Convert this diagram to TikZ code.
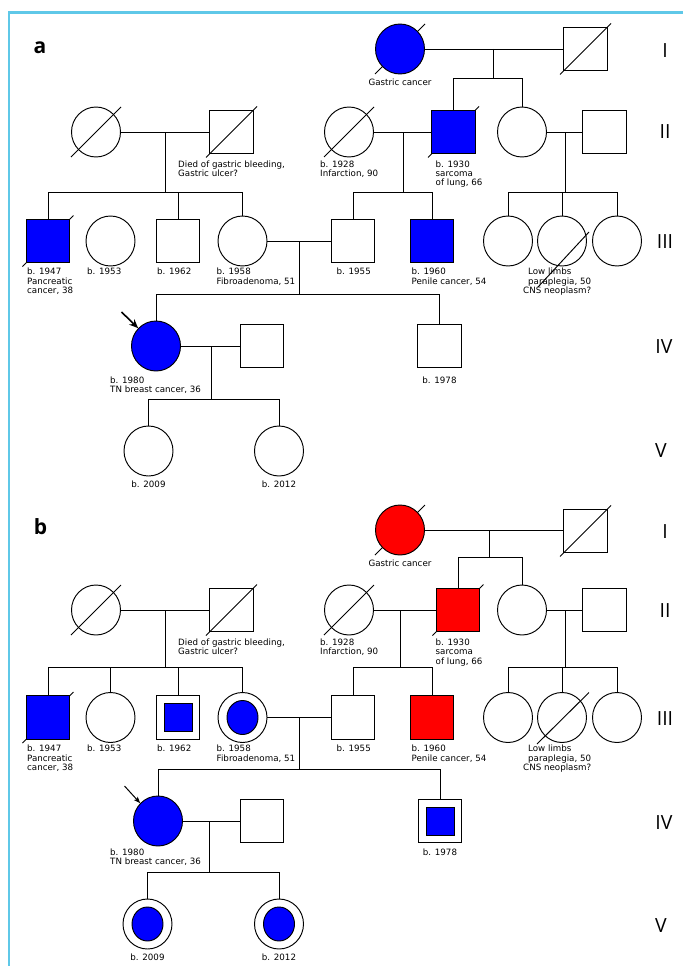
\documentclass[tikz,border=0pt]{standalone}
\usepackage{fontspec}
\setmainfont{DejaVu Sans}
\newfontfamily\numfont{Open Sans}
\usetikzlibrary{shapes.geometric,arrows.meta,calc,backgrounds}
\definecolor{pblue}{RGB}{0,0,255}
\definecolor{pred}{RGB}{255,0,0}
\definecolor{framec}{RGB}{95,200,232}
\begin{document}
\begin{tikzpicture}[x=1pt,y=-1pt,
 rel/.style={line width=0.95pt},
 fem/.style={draw, line width=0.95pt, ellipse, inner sep=0pt, minimum width=49pt, minimum height=50pt},
 mal/.style={draw, line width=0.95pt, rectangle, inner sep=0pt, minimum width=43.5pt, minimum height=43.5pt},
 ifem/.style={draw, line width=0.95pt, ellipse, inner sep=0pt, minimum width=31pt, minimum height=34pt, fill=pblue},
 imal/.style={draw, line width=0.95pt, rectangle, inner sep=0pt, minimum width=28pt, minimum height=28pt, fill=pblue},
 lbl/.style={anchor=north west, inner sep=0pt, align=left, font=\fontsize{8.7}{9.2}\selectfont},
 clbl/.style={anchor=base, inner sep=0pt, font=\fontsize{8.7}{9.2}\selectfont},
 gennum/.style={anchor=base, inner sep=0pt, font=\numfont\fontsize{19.5}{20}\selectfont},
 panellbl/.style={anchor=base, inner sep=0pt, font=\numfont\bfseries\fontsize{21}{21}\selectfont}
]
\useasboundingbox (0,0) rectangle (683,966);
\draw[framec, line width=2.2pt] (8.8,966) -- (8.8,12.5) -- (683,12.5);

% ================= PANEL A =================
\node[panellbl] (pa) at (40,54) {a};
\node[gennum] (gaI) at (665,57.3) {I};
\node[gennum] (gaII) at (665,138.7) {II};
\node[gennum] (gaIII) at (665,248) {III};
\node[gennum] (gaIV) at (664,353.7) {IV};
\node[gennum] (gaV) at (661,457.7) {V};

\node[fem, fill=pblue] (aI1) at (400,49) {};
\node[mal] (aI2) at (585.5,49) {};
\node[fem] (aII1) at (96,132) {};
\node[mal] (aII2) at (231.5,132) {};
\node[fem] (aII3) at (349,132) {};
\node[mal, fill=pblue] (aII4) at (453.5,132) {};
\node[fem] (aII5) at (522,132) {};
\node[mal] (aII6) at (604.5,132) {};
\node[mal, fill=pblue] (aIII1) at (48,241) {};
\node[fem] (aIII2) at (110.5,241) {};
\node[mal] (aIII3) at (178,241) {};
\node[fem] (aIII4) at (242.5,241) {};
\node[mal] (aIII5) at (353,241) {};
\node[mal, fill=pblue] (aIII6) at (432,241) {};
\node[fem] (aIII7) at (508,241) {};
\node[fem] (aIII8) at (562,241) {};
\node[fem] (aIII9) at (617,241) {};
\node[fem, fill=pblue] (aIV1) at (156,346) {};
\node[mal] (aIV2) at (262,346) {};
\node[mal] (aIV3) at (439.5,346) {};
\node[fem] (aV1) at (148.5,451) {};
\node[fem] (aV2) at (279,451) {};

\begin{scope}[on background layer]
\draw[rel] ($(aI1)+(-25,25)$) -- ($(aI1)+(25,-25)$);
\draw[rel] ($(aI2)+(-25.5,25.5)$) -- ($(aI2)+(25.5,-25.5)$);
\draw[rel] ($(aII1)+(-25,25)$) -- ($(aII1)+(25,-25)$);
\draw[rel] ($(aII2)+(-25.5,25.5)$) -- ($(aII2)+(25.5,-25.5)$);
\draw[rel] ($(aII3)+(-25,25)$) -- ($(aII3)+(25,-25)$);
\draw[rel] ($(aII4)+(-25.5,25.5)$) -- ($(aII4)+(25.5,-25.5)$);
\draw[rel] ($(aIII1)+(-25.5,25.5)$) -- ($(aIII1)+(25.5,-25.5)$);
\draw[rel] ($(aIII8)+(-24,46)$) -- ($(aIII8)+(27,-9)$);
\end{scope}

\coordinate (amI) at (493.5,49);   \coordinate (asI) at (493.5,78);
\coordinate (amII1) at (165,132);  \coordinate (asII1) at (165,192);
\coordinate (amII2) at (403,132);  \coordinate (asII2) at (403,192);
\coordinate (amII3) at (565,132);  \coordinate (asII3) at (565,192);
\coordinate (amIII) at (299.3,241); \coordinate (asIII) at (299.3,294);
\coordinate (amIV) at (211,346);   \coordinate (asIV) at (211,399);

\draw[rel] (aI1) -- (aI2);
\draw[rel] (amI) -- (asI);
\draw[rel] (aII4) -- (aII4|-asI) -- (aII5|-asI) -- (aII5);
\draw[rel] (aII1) -- (aII2);
\draw[rel] (amII1) -- (asII1);
\draw[rel] (aIII1) -- (aIII1|-asII1) -- (aIII4|-asII1) -- (aIII4);
\draw[rel] (aIII3) -- (aIII3|-asII1);
\draw[rel] (aII3) -- (aII4);
\draw[rel] (amII2) -- (asII2);
\draw[rel] (aIII5) -- (aIII5|-asII2) -- (aIII6|-asII2) -- (aIII6);
\draw[rel] (aII5) -- (aII6);
\draw[rel] (amII3) -- (asII3);
\draw[rel] (aIII7) -- (aIII7|-asII3) -- (aIII9|-asII3) -- (aIII9);
\draw[rel] (aIII8) -- (aIII8|-asII3);
\draw[rel] (aIII4) -- (aIII5);
\draw[rel] (amIII) -- (asIII);
\draw[rel] (aIV1) -- (aIV1|-asIII) -- (aIV3|-asIII) -- (aIV3);
\draw[rel] (aIV1) -- (aIV2);
\draw[rel] (amIV) -- (asIV);
\draw[rel] (aV1) -- (aV1|-asIV) -- (aV2|-asIV) -- (aV2);

\coordinate (aarr) at (121.5,312);
\draw[line width=1.6pt, -{Stealth[length=9pt,width=7.5pt,inset=3pt]}] (aarr) -- (aIV1.135);

\node[clbl] (taI1) at (400,85.5) {Gastric cancer};
\node[lbl] (taII2) at (178,160.5) {Died of gastric bleeding,\\Gastric ulcer?};
\node[lbl] (taII3) at (320,160.5) {b. 1928\\Infarction, 90};
\node[lbl] (taII4) at (435.5,160.5) {b. 1930\\sarcoma\\of lung, 66};
\node[lbl] (taIII1) at (27,268) {b. 1947\\Pancreatic\\cancer, 38};
\node[lbl] (taIII2) at (87,268) {b. 1953};
\node[lbl] (taIII3) at (157,268) {b. 1962};
\node[lbl] (taIII4) at (216.5,268) {b. 1958\\Fibroadenoma, 51};
\node[lbl] (taIII5) at (336.5,268) {b. 1955};
\node[lbl] (taIII6) at (411.5,268) {b. 1960\\Penile cancer, 54};
\node[lbl] (taIII8) at (528,268) {Low limbs\\paraplegia, 50\\\hspace*{-5pt}CNS neoplasm?};
\node[lbl] (taIV1) at (110,376.5) {b. 1980\\TN breast cancer, 36};
\node[clbl] (taIV3) at (439.5,383) {b. 1978};
\node[clbl] (taV1) at (148.5,487) {b. 2009};
\node[clbl] (taV2) at (279,487) {b. 2012};

% ================= PANEL B =================
\node[panellbl] (pb) at (40.5,534) {b};
\node[gennum] (gbI) at (665,538.7) {I};
\node[gennum] (gbII) at (665,617) {II};
\node[gennum] (gbIII) at (665,725.3) {III};
\node[gennum] (gbIV) at (664,829) {IV};
\node[gennum] (gbV) at (661,932) {V};

\node[fem, fill=pred] (bI1) at (400,530) {};
\node[mal] (bI2) at (585.5,531) {};
\node[fem] (bII1) at (96,610) {};
\node[mal] (bII2) at (231.5,610) {};
\node[fem] (bII3) at (349,610) {};
\node[mal, fill=pred] (bII4) at (458,610) {};
\node[fem] (bII5) at (522,610) {};
\node[mal] (bII6) at (604.5,610) {};
\node[mal, fill=pblue] (bIII1) at (48,717.5) {};
\node[fem] (bIII2) at (110.5,717.5) {};
\node[mal] (bIII3) at (178,717.5) {};
\node[imal] (bIII3i) at (178,717.5) {};
\node[fem] (bIII4) at (242.5,717.5) {};
\node[ifem] (bIII4i) at (242.5,717.5) {};
\node[mal] (bIII5) at (353,717.5) {};
\node[mal, fill=pred] (bIII6) at (432,717.5) {};
\node[fem] (bIII7) at (508,717.5) {};
\node[fem] (bIII8) at (562,717.5) {};
\node[fem] (bIII9) at (617,717.5) {};
\node[fem, fill=pblue] (bIV1) at (158,821) {};
\node[mal] (bIV2) at (262,821) {};
\node[mal] (bIV3) at (440,821) {};
\node[imal] (bIV3i) at (440,821) {};
\node[fem] (bV1) at (147.5,924) {};
\node[ifem] (bV1i) at (147.5,924) {};
\node[fem] (bV2) at (279,924) {};
\node[ifem] (bV2i) at (279,924) {};

\begin{scope}[on background layer]
\draw[rel] ($(bI1)+(-25,25)$) -- ($(bI1)+(25,-25)$);
\draw[rel] ($(bI2)+(-25.5,25.5)$) -- ($(bI2)+(25.5,-25.5)$);
\draw[rel] ($(bII1)+(-25,25)$) -- ($(bII1)+(25,-25)$);
\draw[rel] ($(bII2)+(-25.5,25.5)$) -- ($(bII2)+(25.5,-25.5)$);
\draw[rel] ($(bII3)+(-25,25)$) -- ($(bII3)+(25,-25)$);
\draw[rel] ($(bII4)+(-25.5,25.5)$) -- ($(bII4)+(25.5,-25.5)$);
\draw[rel] ($(bIII1)+(-25.5,25.5)$) -- ($(bIII1)+(25.5,-25.5)$);
\draw[rel] ($(bIII8)+(-25,26.5)$) -- ($(bIII8)+(27,-25)$);
\end{scope}

\coordinate (bmI) at (489,530);    \coordinate (bsI) at (489,557);
\coordinate (bmII1) at (165,610);  \coordinate (bsII1) at (165,667);
\coordinate (bmII2) at (400,610);  \coordinate (bsII2) at (400,667);
\coordinate (bmII3) at (565,610);  \coordinate (bsII3) at (565,667);
\coordinate (bmIII) at (299.5,717.5); \coordinate (bsIII) at (299.5,769);
\coordinate (bmIV) at (209.5,821); \coordinate (bsIV) at (209.5,872);

\draw[rel] (bI1) -- (bI1-|bI2.west);
\draw[rel] (bmI) -- (bsI);
\draw[rel] (bII4) -- (bII4|-bsI) -- (bII5|-bsI) -- (bII5);
\draw[rel] (bII1) -- (bII2);
\draw[rel] (bmII1) -- (bsII1);
\draw[rel] (bIII1) -- (bIII1|-bsII1) -- (bIII4|-bsII1) -- (bIII4);
\draw[rel] (bIII2) -- (bIII2|-bsII1);
\draw[rel] (bIII3) -- (bIII3|-bsII1);
\draw[rel] (bII3) -- (bII4);
\draw[rel] (bmII2) -- (bsII2);
\draw[rel] (bIII5) -- (bIII5|-bsII2) -- (bIII6|-bsII2) -- (bIII6);
\draw[rel] (bII5) -- (bII6);
\draw[rel] (bmII3) -- (bsII3);
\draw[rel] (bIII7) -- (bIII7|-bsII3) -- (bIII9|-bsII3) -- (bIII9);
\draw[rel] (bIII8) -- (bIII8|-bsII3);
\draw[rel] (bIII4) -- (bIII5);
\draw[rel] (bmIII) -- (bsIII);
\draw[rel] (bIV1) -- (bIV1|-bsIII) -- (bIV3|-bsIII) -- (bIV3);
\draw[rel] (bIV1) -- (bIV2);
\draw[rel] (bmIV) -- (bsIV);
\draw[rel] (bV1) -- (bV1|-bsIV) -- (bV2|-bsIV) -- (bV2);

\coordinate (barr) at (124.5,786);
\draw[line width=1pt, -{Stealth[length=6.5pt,width=5pt,inset=1.5pt]}] (barr) -- (bIV1.135);

\node[clbl] (tbI1) at (400,566.3) {Gastric cancer};
\node[lbl] (tbII2) at (178,638.8) {Died of gastric bleeding,\\Gastric ulcer?};
\node[lbl] (tbII3) at (320,638.8) {b. 1928\\Infarction, 90};
\node[lbl] (tbII4) at (435.5,638.8) {b. 1930\\sarcoma\\of lung, 66};
\node[lbl] (tbIII1) at (27,745) {b. 1947\\Pancreatic\\cancer, 38};
\node[lbl] (tbIII2) at (87,745) {b. 1953};
\node[lbl] (tbIII3) at (157,745) {b. 1962};
\node[lbl] (tbIII4) at (216.5,745) {b. 1958\\Fibroadenoma, 51};
\node[lbl] (tbIII5) at (336.5,745) {b. 1955};
\node[lbl] (tbIII6) at (411.5,745) {b. 1960\\Penile cancer, 54};
\node[lbl] (tbIII8) at (528,745) {Low limbs\\paraplegia, 50\\\hspace*{-5pt}CNS neoplasm?};
\node[lbl] (tbIV1) at (110,848.5) {b. 1980\\TN breast cancer, 36};
\node[clbl] (tbIV3) at (440,855) {b. 1978};
\node[clbl] (tbV1) at (147.5,960) {b. 2009};
\node[clbl] (tbV2) at (279,960) {b. 2012};
\end{tikzpicture}
\end{document}
